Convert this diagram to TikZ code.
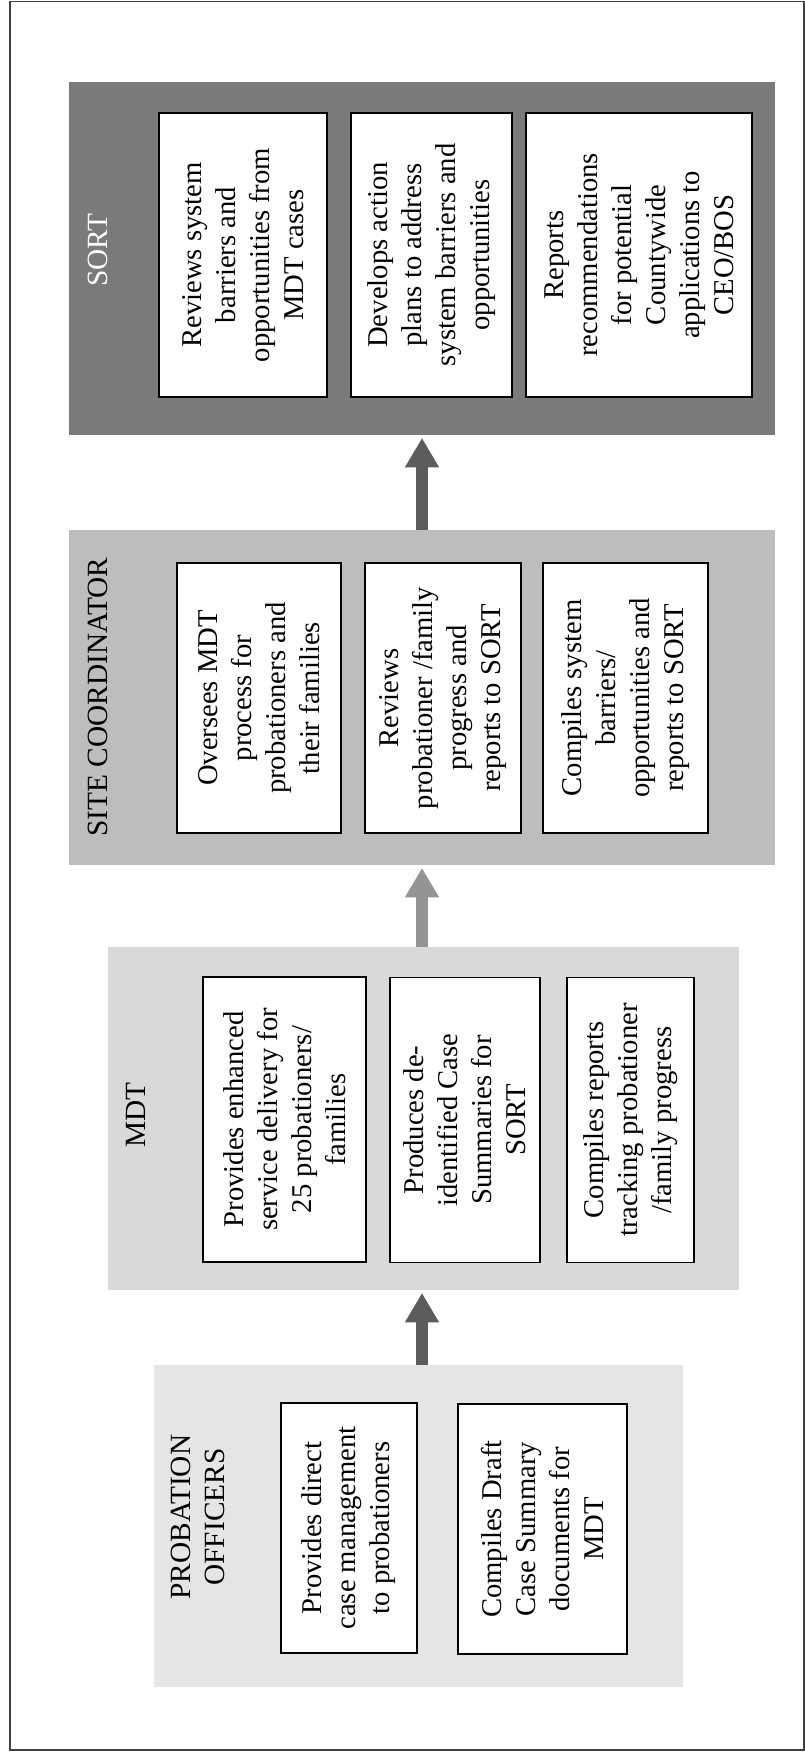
\documentclass[tikz,border=0pt]{standalone}
\usepackage{fontspec}
\setmainfont{Liberation Serif}
\usepackage{tikz}
\usetikzlibrary{arrows.meta}
\usetikzlibrary{calc}

\definecolor{sortgray}{rgb}{0.48,0.48,0.48}
\definecolor{sitegray}{rgb}{0.74,0.74,0.74}
\definecolor{mdtgray}{rgb}{0.85,0.85,0.85}
\definecolor{pogray}{rgb}{0.90,0.90,0.90}
\definecolor{arrowdark}{rgb}{0.36,0.36,0.36}
\definecolor{arrowlight}{rgb}{0.58,0.58,0.58}

\tikzset{
  panel/.style={draw=none, inner sep=0pt},
  taskbox/.style={draw=black, line width=1pt, fill=white, rotate=90, align=center, inner sep=0.75pt,
    font=\fontsize{21.5}{25.5}\selectfont},
  paneltitle/.style={rotate=90, align=center, inner sep=0.75pt, font=\fontsize{22}{23}\selectfont},
  flowarrow/.style={line width=9pt, shorten >=2pt, -{Triangle[length=22pt,width=24pt]}}
}

\begin{document}
\begin{tikzpicture}[x=0.75pt,y=0.75pt,yscale=-1,xscale=1]
\useasboundingbox (0,0) rectangle (805,1752);

% Frame
\draw [black!75, line width=0.9pt] (10,1.5) rectangle (804,1750);

% Shape: Panel SORT
\node (sortpanel) [panel, fill=sortgray, minimum width=529.5pt, minimum height=264.75pt] at (422,258.5) {};
% Shape: Panel SITE COORDINATOR
\node (sitepanel) [panel, fill=sitegray, minimum width=529.5pt, minimum height=251.25pt] at (422,697.5) {};
% Shape: Panel MDT
\node (mdtpanel) [panel, fill=mdtgray, minimum width=473.25pt, minimum height=257.25pt] at (423.5,1118.5) {};
% Shape: Panel PROBATION OFFICERS
\node (popanel) [panel, fill=pogray, minimum width=396.75pt, minimum height=241.5pt] at (418.5,1526) {};

% Text Node
\node (sorttitle) [paneltitle, text=white] at (98,250) {SORT};
% Text Node
\node (sitetitle) [paneltitle] at (98,697) {SITE COORDINATOR};
% Text Node
\node (mdttitle) [paneltitle] at (136,1115) {MDT};
% Text Node
\node (potitle) [paneltitle, font=\fontsize{22}{25}\selectfont] at (198,1517) {PROBATION\\OFFICERS};

% SORT boxes
\node (sortA) [taskbox, minimum width=213pt, minimum height=126pt] at (243,255) {Reviews system\\barriers and\\opportunities from\\MDT cases};
\node (sortB) [taskbox, minimum width=213pt, minimum height=120.75pt] at (431.5,255) {Develops action\\plans to address\\system barriers and\\opportunities};
\node (sortC) [taskbox, minimum width=213pt, minimum height=169.5pt] at (639,255) {Reports\\recommendations\\for potential\\Countywide\\applications to\\CEO/BOS};

% SITE COORDINATOR boxes
\node (siteA) [taskbox, minimum width=202.5pt, minimum height=123pt] at (259,698) {Oversees MDT\\process for\\probationers and\\their families};
\node (siteB) [taskbox, minimum width=202.5pt, minimum height=117pt] at (443,698) {Reviews\\probationer /family\\progress and\\reports to SORT};
\node (siteC) [taskbox, minimum width=202.5pt, minimum height=123.75pt] at (625.5,698) {Compiles system\\barriers/\\opportunities and\\reports to SORT};

% MDT boxes
\node (mdtA) [taskbox, minimum width=213.75pt, minimum height=122.25pt] at (284.5,1119.5) {Provides enhanced\\service delivery for\\25 probationers/\\families};
\node (mdtB) [taskbox, minimum width=213.75pt, minimum height=112.5pt] at (465,1120) {Produces de-\\identified Case\\Summaries for\\SORT};
\node (mdtC) [taskbox, minimum width=213.75pt, minimum height=95.25pt] at (630.5,1120) {Compiles reports\\tracking probationer\\/family progress};

% PROBATION OFFICERS boxes
\node (poA) [taskbox, minimum width=187.5pt, minimum height=102pt] at (349,1528) {Provides direct\\case management\\to probationers};
\node (poB) [taskbox, minimum width=187.5pt, minimum height=126.75pt] at (542.5,1529) {Compiles Draft\\Case Summary\\documents for\\MDT};

% Arrows
\draw [flowarrow, draw=arrowdark] (popanel.north -| sitepanel.center) -- (mdtpanel.south -| sitepanel.center);
\draw [flowarrow, draw=arrowlight] (mdtpanel.north -| sitepanel.center) -- (sitepanel.south);
\draw [flowarrow, draw=arrowdark] (sitepanel.north) -- (sortpanel.south);

\end{tikzpicture}
\end{document}
